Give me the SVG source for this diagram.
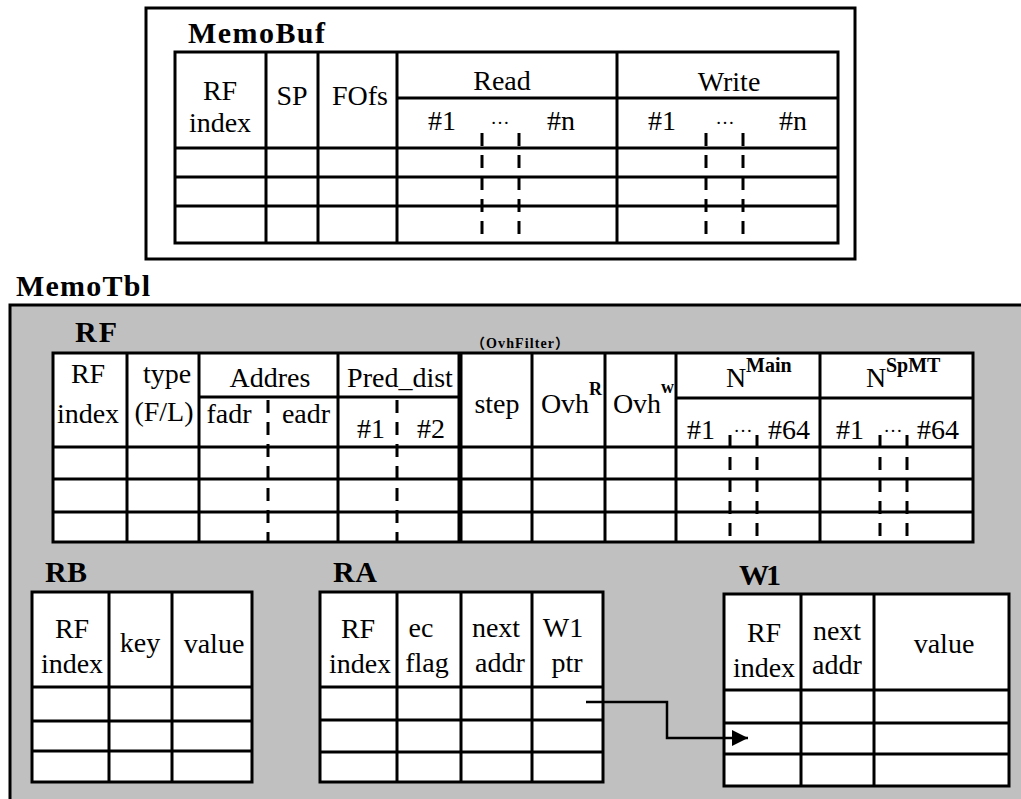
<svg xmlns="http://www.w3.org/2000/svg" width="1021" height="799" viewBox="0 0 1021 799">
  <defs>
    <style>
      .grid { fill: none; stroke: #000; stroke-width: 3; }
      .cell { fill: #fff; stroke: #000; stroke-width: 3; }
      .dash { fill: none; stroke: #000; stroke-width: 3; stroke-dasharray: 13 9; }
      .thick { fill: none; stroke: #000; stroke-width: 5; }
      text { font-family: "Liberation Serif", "Times New Roman", serif; font-size: 28px; text-anchor: middle; fill: #000; }
      .title { font-weight: bold; font-size: 30px; text-anchor: start; }
      .sup { font-weight: bold; font-size: 18px; text-anchor: start; }
      .supn { font-weight: bold; font-size: 20px; text-anchor: start; }
      .dots { font-size: 19px; }
      .tag { font-family: "Liberation Serif", "Noto Sans CJK SC", serif; font-weight: bold; font-size: 14px; text-anchor: start; }
      .link { fill: none; stroke: #000; stroke-width: 2.5; }
    </style>
    <marker id="arrow" markerUnits="userSpaceOnUse" markerWidth="17" markerHeight="17" refX="16" refY="8" orient="auto">
      <path d="M0,0 L16,8 L0,16 Z" fill="#000"/>
    </marker>
  </defs>

  <rect width="1021" height="799" fill="#fff"/>

  <!-- MemoBuf: read/write buffer -->
  <g id="memobuf">
    <rect x="146" y="8" width="709" height="251" class="grid"/>
    <text x="188" y="43" class="title" textLength="137">MemoBuf</text>
    <rect x="175" y="52" width="663" height="191" class="cell"/>
    <path class="grid" d="M266,52V243 M318,52V243 M397,52V243 M617,52V243 M397,98H838 M175,148H838 M175,177H838 M175,206H838"/>
    <path class="dash" d="M482,133V236 M519,133V236 M706,133V236 M743,133V236"/>
    <text x="220" y="100">RF</text>
    <text x="220" y="132">index</text>
    <text x="292" y="105">SP</text>
    <text x="360" y="105">FOfs</text>
    <text x="502" y="90">Read</text>
    <text x="729" y="91">Write</text>
    <text x="442" y="130">#1</text>
    <text x="500" y="124" class="dots">…</text>
    <text x="561" y="130">#n</text>
    <text x="662" y="130">#1</text>
    <text x="725" y="124" class="dots">…</text>
    <text x="793" y="130">#n</text>
  </g>

  <!-- MemoTbl container (open to the right and bottom) -->
  <g id="memotbl">
    <text x="16" y="296" class="title" textLength="134">MemoTbl</text>
    <rect x="10" y="305" width="1025" height="510" fill="#c0c0c0" stroke="#000" stroke-width="3"/>
  </g>

  <!-- RF table -->
  <g id="rf">
    <text x="75" y="342" class="title" textLength="42">RF</text>
    <text x="471" y="348" class="tag" textLength="98">（OvhFilter）</text>
    <rect x="53" y="353" width="920" height="189" class="cell"/>
    <path class="grid" d="M127,353V542 M199,353V542 M338,353V542 M532,353V542 M605,353V542 M676,353V542 M820,353V542 M199,397H460 M676,398H973 M53,447H973 M53,479H973 M53,512H973"/>
    <path class="thick" d="M460,353V542"/>
    <path class="dash" d="M268,400V542 M397,400V542 M730,435V542 M757,435V542 M880,435V542 M907,435V542"/>
    <text x="88" y="383">RF</text>
    <text x="88" y="423">index</text>
    <text x="167" y="383">type</text>
    <text x="164" y="421">(F/L)</text>
    <text x="270" y="387">Addres</text>
    <text x="229" y="423">fadr</text>
    <text x="306" y="423">eadr</text>
    <text x="400" y="387">Pred_dist</text>
    <text x="371" y="438">#1</text>
    <text x="431" y="438">#2</text>
    <text x="497" y="413">step</text>
    <text x="565" y="413">Ovh</text>
    <text x="589" y="395" class="sup">R</text>
    <text x="637" y="413">Ovh</text>
    <text x="661" y="393" class="sup">w</text>
    <text x="736" y="387">N</text>
    <text x="746" y="372" class="supn">Main</text>
    <text x="876" y="387">N</text>
    <text x="886" y="372" class="supn">SpMT</text>
    <text x="701" y="439">#1</text>
    <text x="743" y="432" class="dots">…</text>
    <text x="789" y="439">#64</text>
    <text x="850" y="439">#1</text>
    <text x="893" y="432" class="dots">…</text>
    <text x="938" y="439">#64</text>
  </g>

  <!-- RB table -->
  <g id="rb">
    <text x="45" y="582" class="title" textLength="42">RB</text>
    <rect x="32" y="592" width="220" height="190" class="cell"/>
    <path class="grid" d="M109,592V782 M172,592V782 M32,687H252 M32,721H252 M32,751H252"/>
    <text x="72" y="638">RF</text>
    <text x="72" y="673">index</text>
    <text x="140" y="652">key</text>
    <text x="214" y="653">value</text>
  </g>

  <!-- RA table -->
  <g id="ra">
    <text x="333" y="582" class="title" textLength="44">RA</text>
    <rect x="320" y="592" width="283" height="190" class="cell"/>
    <path class="grid" d="M397,592V782 M461,592V782 M532,592V782 M320,687H603 M320,720H603 M320,752H603"/>
    <text x="358" y="638">RF</text>
    <text x="360" y="673">index</text>
    <text x="421" y="637">ec</text>
    <text x="427" y="672">flag</text>
    <text x="496" y="637">next</text>
    <text x="500" y="672">addr</text>
    <text x="563" y="637">W1</text>
    <text x="567" y="672">ptr</text>
  </g>

  <!-- W1 table -->
  <g id="w1">
    <text x="739" y="585" class="title" textLength="42">W1</text>
    <rect x="724" y="594" width="285" height="192" class="cell"/>
    <path class="grid" d="M801,594V786 M874,594V786 M724,690H1009 M724,723H1009 M724,754H1009"/>
    <text x="764" y="642">RF</text>
    <text x="764" y="677">index</text>
    <text x="837" y="640">next</text>
    <text x="837" y="674">addr</text>
    <text x="944" y="653">value</text>
  </g>

  <!-- pointer from RA.W1 ptr to a W1 entry -->
  <g id="connectors">
    <path class="link" d="M586,702H667V738H748" marker-end="url(#arrow)"/>
  </g>
</svg>
